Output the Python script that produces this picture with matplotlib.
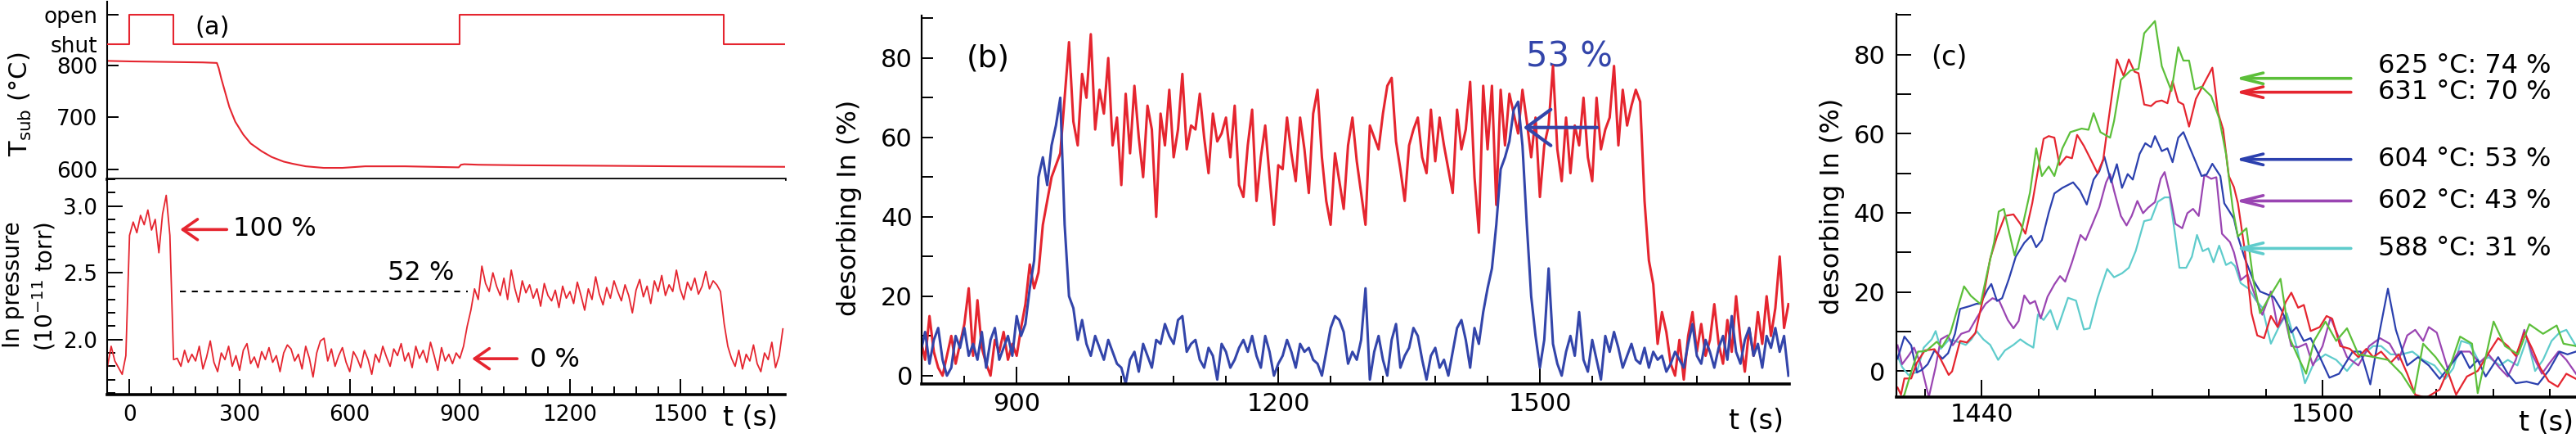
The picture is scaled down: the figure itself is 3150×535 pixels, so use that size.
import numpy as np
import matplotlib
matplotlib.use("Agg")
import matplotlib.pyplot as plt
from matplotlib.ticker import FixedLocator, MultipleLocator

plt.rcParams['font.family'] = ['DejaVu Sans']

# ---------------- colours ----------------
RED = '#e5252f'
BLUE_B = '#3345aa'
BLUE = '#2b40ae'
GREEN = '#5cbf3a'
PURPLE = '#9a45b2'
CYAN = '#5fcccc'

# ---------------- panel (a) data ----------------
shutter_t = [-61, 0, 119, 900, 1620, 1786]
shutter_state = [0, 1, 0, 1, 0, 0]          # 0 = shut, 1 = open
shutter_labels = ['shut', 'open']

temp_t = [-61, 0, 100, 200, 238, 243, 250, 260, 272, 288,
          310, 330, 360, 387, 420, 444, 480, 529, 580, 642,
          750, 897, 903, 912, 950, 1068, 1300, 1500, 1786]
temp_c = [809, 808, 807, 806, 805, 795, 775, 750, 720, 692,
          667, 650, 635, 624, 615, 611, 606, 603, 603, 606,
          606, 604, 609, 610, 609, 608, 607, 606, 605]

press_t = np.arange(-60, 1790, 10)
press_v = [
    1.80, 1.95, 1.84, 1.79, 1.74, 1.88, 2.78, 2.88, 2.80, 2.93,   # -60
    2.86, 2.97, 2.82, 2.90, 2.65, 2.94, 3.08, 2.78, 1.85, 1.86,   # 40
    1.80, 1.92, 1.83, 1.89, 1.84, 1.95, 1.78, 1.87, 1.99, 1.83,   # 140
    1.76, 1.90, 1.85, 1.95, 1.80, 1.88, 1.77, 1.92, 1.97, 1.82,   # 240
    1.87, 1.79, 1.91, 1.85, 1.94, 1.83, 1.88, 1.76, 1.90, 1.96,   # 340
    1.93, 1.84, 1.89, 1.78, 1.95, 1.86, 1.72, 1.90, 1.99, 2.01,   # 440
    1.84, 1.93, 1.80, 1.88, 1.94, 1.83, 1.76, 1.91, 1.86, 1.79,   # 540
    1.92, 1.85, 1.74, 1.89, 1.83, 1.95, 1.87, 1.80, 1.93, 1.88,   # 640
    1.97, 1.84, 1.90, 1.79, 1.95, 1.86, 1.92, 1.83, 1.98, 1.88,   # 740
    1.77, 1.94, 1.84, 1.89, 1.82, 1.90, 1.86, 1.95, 2.10, 2.22,   # 840
    2.38, 2.30, 2.55, 2.42, 2.36, 2.50, 2.40, 2.33, 2.46, 2.30,   # 940
    2.52, 2.38, 2.28, 2.44, 2.35, 2.41, 2.31, 2.38, 2.25, 2.42,   # 1040
    2.33, 2.29, 2.37, 2.24, 2.40, 2.31, 2.36, 2.27, 2.43, 2.33,   # 1140
    2.22, 2.38, 2.30, 2.47, 2.34, 2.26, 2.39, 2.31, 2.44, 2.36,   # 1240
    2.29, 2.41, 2.33, 2.20, 2.37, 2.45, 2.32, 2.40, 2.27, 2.44,   # 1340
    2.36, 2.48, 2.33, 2.41, 2.36, 2.52, 2.38, 2.30, 2.43, 2.37,   # 1440
    2.46, 2.34, 2.40, 2.51, 2.38, 2.44, 2.41, 2.36, 2.12, 1.95,   # 1540
    1.86, 1.80, 1.92, 1.78, 1.89, 1.84, 1.96, 1.82, 1.76, 1.90,   # 1640
    1.85, 1.98, 1.79, 1.88, 2.08]                                   # 1740

level_52 = 2.363
level_52_span = (138, 922)

# ---------------- panel (b) data ----------------
b_t = np.arange(790, 1790, 5)
b_red = [
    9, 4, 15, 6, 2, 0, 5, 10, 3, 8,          # 790
    13, 22, 5, 19, 7, 3, 0, 9, 6, 11,        # 840
    4, 8, 5, 12, 18, 28, 22, 26, 38, 44,     # 890
    50, 53, 56, 70, 84, 64, 58, 76, 70, 86,  # 940
    62, 72, 66, 80, 58, 65, 48, 71, 56, 73,  # 990
    60, 50, 68, 62, 40, 66, 58, 72, 55, 62,  # 1040
    76, 57, 63, 62, 71, 60, 51, 66, 59, 61,  # 1090
    65, 55, 68, 48, 45, 58, 67, 44, 55, 63,  # 1140
    50, 38, 53, 52, 65, 56, 49, 65, 57, 46,  # 1190
    66, 72, 55, 44, 38, 56, 49, 42, 58, 65,  # 1240
    54, 46, 38, 63, 60, 57, 66, 73, 75, 59,  # 1290
    52, 44, 58, 62, 65, 55, 51, 67, 54, 65,  # 1340
    58, 52, 46, 67, 57, 62, 74, 50, 36, 73,  # 1390
    57, 73, 43, 72, 58, 71, 66, 61, 72, 64,  # 1440
    55, 65, 45, 58, 63, 78, 57, 49, 65, 51,  # 1490
    63, 58, 70, 55, 49, 70, 57, 62, 65, 78,  # 1540
    58, 72, 63, 68, 72, 69, 44, 29, 23, 8,   # 1590
    16, 11, 3, 0, 9, -1, 10, 16, 6, 13,      # 1640
    5, 9, 18, 8, 3, 14, 6, 20, 9, 1,         # 1690
    12, 5, 16, 8, 20, 10, 17, 30, 12, 18]    # 1740
b_blue = [
    6, 11, 3, 9, 12, 4, 0, 2, 10, 7,         # 790
    12, 5, 8, 4, 11, 2, 9, 12, 4, 7,         # 840
    10, 5, 15, 10, 13, 22, 29, 50, 55, 48,   # 890
    58, 63, 70, 38, 20, 17, 9, 14, 8, 5,     # 940
    10, 7, 4, 9, 6, 3, 2, -2, 4, 6,          # 990
    1, 8, 5, 2, 9, 8, 13, 10, 8, 14,         # 1040
    15, 6, 8, 9, 4, 2, 7, 5, -1, 8,          # 1090
    6, 2, 4, 7, 9, 6, 10, 5, 2, 10,          # 1140
    6, 0, 3, 5, 9, 6, 2, 8, 6, 7,            # 1190
    4, 3, 0, 6, 12, 15, 14, 11, 3, 6,        # 1240
    4, 9, 22, -1, 6, 10, 4, 0, 9, 13,        # 1290
    2, 5, 7, 12, 10, 4, -1, 5, 7, 2,         # 1340
    4, 0, 6, 12, 14, 9, 2, 12, 8, 16,        # 1390
    22, 27, 38, 52, 55, 59, 67, 69, 58, 38,  # 1440
    20, 10, 2, 9, 27, 8, 3, 0, 6, 10,        # 1490
    5, 16, 4, 1, 9, 4, -1, 10, 6, 11,        # 1540
    7, 2, 5, 8, 4, 3, 7, 2, 6, 4,            # 1590
    5, 1, 3, 6, 4, 2, 8, 13, 5, 3,           # 1640
    9, 6, 2, 7, 10, 4, 15, 6, 3, 9,          # 1690
    12, 5, 8, 2, 10, 7, 12, 6, 10, 0]        # 1740

# ---------------- panel (c) data : (t, value) ----------------
c_green = [(1425, -9), (1426.4, -6), (1427.8, 0.7), (1428.8, 4.9), (1430.2, 5), (1432.1, 7.4),
           (1433, 6), (1434.5, 9.6), (1435.9, 16.5), (1436.9, 21.4), (1438.1, 19), (1439.8, 16.9),
           (1441, 25), (1442.2, 32.6), (1443, 40.3), (1443.9, 41), (1444.9, 34.7), (1445.8, 29.2),
           (1447, 35.4), (1448.5, 45.1), (1449.6, 56.3), (1450.6, 49.3), (1451.8, 51.7), (1452.8, 49.3),
           (1454.2, 56.3), (1455.6, 60.4), (1457.6, 61.3), (1458.8, 61), (1459.7, 65.2), (1460.9, 60.4),
           (1462.6, 59), (1463.3, 63.2), (1464.5, 73.6), (1466.2, 76), (1467.6, 76.4), (1468.6, 85.4),
           (1470.5, 88.5), (1471.7, 77.1), (1473.4, 70.8), (1474.6, 81.9), (1475.5, 78.5), (1476.5, 78.5),
           (1477.5, 71.2), (1478.7, 71.9), (1480.4, 69.5), (1481.8, 63.9), (1483, 54.9), (1484.2, 41),
           (1485.1, 34), (1486.6, 36.1), (1487.8, 23), (1489, 14.6), (1490.4, 18.1), (1492.6, 23.3),
           (1494.2, 8.3), (1495.7, 3.5), (1497.1, -0.7), (1498.5, 7.6), (1500.5, 12.5), (1502.4, 7.6),
           (1504.3, 10.8), (1506.3, 4.2), (1509.1, 3.5), (1511.5, 2.8), (1513.9, -0.7), (1516.1, -5.6),
           (1517.7, 6.9), (1519.9, 3.5), (1522, -0.7), (1524.2, 8.7), (1526.3, 6.9), (1527.3, -5.6),
           (1530.1, 12.5), (1532.1, 6.3), (1534.4, 4.2), (1536.4, 11.8), (1538.8, 9.4), (1541.2, 11.5),
           (1542.4, 6.9), (1544.6, 6.3)]
c_red = [(1425.2, -4.2), (1425.8, -6), (1426.4, -1.9), (1427.6, -1.9), (1428.6, 2.1), (1430, 5.2),
         (1431.7, 5.5), (1432.6, 3.5), (1434.2, -1), (1434.8, -0.1), (1436.2, 7.6), (1437.4, 7.2),
         (1438.9, 9.6), (1440.3, 18.7), (1441.5, 28.4), (1442.7, 34), (1444.1, 39.2), (1445.6, 39.6),
         (1446.8, 37.2), (1447.7, 34.7), (1448.9, 42.4), (1449.9, 50.7), (1450.9, 58.7), (1451.8, 59.4),
         (1452.8, 59), (1453.7, 52.1), (1454.9, 54.2), (1455.9, 53.8), (1456.8, 59.7), (1458, 56.9),
         (1459.2, 53.5), (1460.4, 50), (1461.4, 53.5), (1462.3, 63.2), (1463.8, 78.8), (1465, 74.6),
         (1465.9, 78.8), (1466.9, 75.7), (1467.6, 75.3), (1468.6, 67.4), (1469.8, 67), (1470.7, 68.1),
         (1471.7, 68.4), (1472.7, 67.7), (1473.6, 73.3), (1474.6, 68.1), (1475.5, 67.4), (1476.5, 61.8),
         (1477.7, 68.8), (1479.2, 72.9), (1480.6, 76.7), (1481.6, 65.3), (1482.5, 61.1), (1483.5, 49.3),
         (1484.4, 46.5), (1485.1, 42.4), (1486.3, 30.6), (1487.5, 14.6), (1488.5, 9), (1489.7, 8.3),
         (1490.9, 13.9), (1492.1, 11.1), (1493.5, 17.4), (1494.5, 19.8), (1495.7, 16), (1496.7, 16.7),
         (1497.9, 10.1), (1499.5, 11.1), (1500.7, 13.9), (1501.7, 13.2), (1503.1, 6.3), (1504.8, 5.6),
         (1506.3, 3.5), (1507.7, 5.6), (1508.9, 3.5), (1510.3, 4.9), (1512, 2.1), (1513.4, 4.2),
         (1514.9, -0.7), (1516.3, -6), (1518.2, -6.8), (1520.6, -4.7), (1522, 0), (1523.5, -6),
         (1525.4, -1.4), (1527.3, 0), (1529.2, 4.5), (1530.9, 8.3), (1532.6, 6.3), (1534, 3.8),
         (1535.5, 9.7), (1536.9, 5.6), (1538.3, 0.8), (1539.8, -2.6), (1541.4, -4), (1542.9, -0.7),
         (1544.6, -2)]
c_blue = [(1425.2, 3.1), (1426.4, 8.7), (1427.6, 6.5), (1428.6, -0.4), (1429.5, 0.3), (1430.5, 1.7),
          (1431.7, 5.2), (1433.1, 3.1), (1434.1, 4.5), (1435.3, 9.4), (1436.2, 15.7), (1437.9, 16.4),
          (1439.1, 17), (1439.8, 17), (1441, 20.5), (1441.7, 22), (1442.7, 17.7), (1443.6, 18.4),
          (1444.8, 23.3), (1446, 28.9), (1447.5, 32.4), (1448.7, 34.2), (1449.6, 31.3), (1450.6, 33.1),
          (1451.8, 40), (1452.8, 44.9), (1454.2, 46.3), (1456.1, 47.7), (1457.3, 45.6), (1458.5, 42.1),
          (1459.7, 48.4), (1460.7, 50.5), (1461.6, 54.2), (1462.8, 47.7), (1463.8, 52.3), (1464.7, 46.3),
          (1465.7, 49.8), (1466.6, 48.4), (1467.8, 54.9), (1468.8, 57.6), (1469.8, 56.6), (1470.5, 59.4),
          (1471.7, 55.6), (1472.7, 56.3), (1473.6, 52.8), (1474.6, 59), (1475.5, 60.4), (1476.5, 56.9),
          (1477.7, 52.8), (1478.7, 49.3), (1479.6, 49.7), (1480.6, 52.4), (1482, 49.3), (1482.7, 42.4),
          (1483.5, 40.6), (1484.4, 38.5), (1485.1, 34), (1486.3, 28.5), (1487.8, 23), (1489, 20.1),
          (1491.4, 18.7), (1492.8, 15.3), (1494.5, 9.7), (1495.4, 11.1), (1496.7, 7.6), (1497.9, 8.3),
          (1499.3, 4.2), (1501.2, -1.7), (1502.9, -0.7), (1505.3, 4.9), (1506.7, 4.9), (1508.4, -3.4),
          (1510.1, 10.4), (1511.5, 20.8), (1512.9, 10.4), (1514.9, 1.4), (1516.8, 3.5), (1518.7, 1.4),
          (1520.6, -2), (1522.5, 1.4), (1524.4, 4.9), (1525.9, 0.7), (1527.3, 2.8), (1528.7, -1.4),
          (1530.9, 3.5), (1532.6, -0.7), (1534, -3.1), (1535.9, -2.7), (1537.9, -3.4), (1539.8, 0.1),
          (1541.7, 4.9), (1543.1, 4.2), (1544.6, 4.9)]
c_purple = [(1425.2, 6.5), (1426, 1.7), (1427.1, 3.8), (1428.1, 5.9), (1429.3, 1.7), (1430.7, -6.6),
            (1431.9, 1), (1432.8, 8), (1434, 9), (1434.9, 6.5), (1436.4, 9.4), (1437.8, 10.1),
            (1439.2, 13.6), (1440.7, 17), (1441.9, 18.4), (1443.1, 17.7), (1444.6, 12.9), (1445.6, 10.8),
            (1446.5, 12.6), (1447.5, 19.1), (1448.5, 17), (1449.4, 17.7), (1450.4, 13.3), (1451.6, 18.8),
            (1452.8, 21.9), (1453.8, 24), (1454.7, 22.6), (1455.9, 27.5), (1457.4, 34.4), (1458.3, 33.1),
            (1459.5, 37.2), (1460.7, 41.4), (1461.9, 47.7), (1462.6, 49.8), (1463.3, 45.6), (1464.5, 39.2),
            (1465.5, 36.8), (1466.4, 39.2), (1467.4, 43), (1468.4, 39.9), (1469.3, 41.3), (1470.5, 42.7),
            (1471.5, 48.6), (1472.2, 50.3), (1473.1, 44.9), (1474.1, 37.2), (1475.3, 36.1), (1476.2, 39.9),
            (1477.2, 41), (1478.2, 39.2), (1479.2, 49.6), (1480.4, 48.6), (1481.3, 49), (1482.3, 34.7),
            (1483.7, 32.6), (1484.4, 30), (1485.6, 23), (1486.8, 24.4), (1488, 19.5), (1489.4, 14.2),
            (1490.9, 20.1), (1492.1, 11.1), (1493.3, 13.9), (1494.5, 6.3), (1495.7, 6), (1497.1, 6.9),
            (1498.3, 1.4), (1500, 6.3), (1501.4, 13.5), (1502.9, 8.3), (1504.3, 3.5), (1506.3, 1.4),
            (1508.2, 6.3), (1510.1, 8.3), (1511.8, 6.9), (1513.4, 2.8), (1514.9, 9), (1516.3, 10.4),
            (1517.7, 7.6), (1518.7, 11.1), (1520.1, 9.7), (1522, 0.7), (1524, 4.9), (1525.9, 4.9),
            (1527.6, 2.1), (1529.2, 4.2), (1531.2, 0.7), (1532.6, -1.4), (1534, 2.8), (1535.5, 10.4),
            (1536.9, 4.2), (1538.6, -0.7), (1540, 2.1), (1541.5, 4.9), (1542.9, 2.8), (1544.6, -0.7)]
c_cyan = [(1425.2, 3.8), (1426, 1), (1427.1, -1), (1428.6, -0.3), (1429.8, 5.9), (1431.2, 8),
          (1431.9, 10.1), (1432.8, 5.6), (1434.3, 8), (1435.9, 7.3), (1437.2, 6.6), (1438.2, 8),
          (1439.1, 10.1), (1440.3, 8), (1441.5, 6.6), (1442.9, 2.8), (1444.1, 5.2), (1445.6, 6.6),
          (1446.8, 8), (1447.9, 6.9), (1449.1, 5.9), (1449.9, 14.3), (1450.9, 12.9), (1452.1, 15.4),
          (1453.3, 10.5), (1455.2, 18.5), (1456.6, 17.8), (1458, 10.5), (1459, 10.8), (1460.4, 18.5),
          (1462.1, 25.8), (1463.3, 23.7), (1464.7, 24.7), (1465.9, 26.1), (1467.1, 30.3), (1468.6, 37.9),
          (1469.8, 38.3), (1471, 42.8), (1472.2, 43.9), (1473.1, 43.9), (1473.9, 35.9), (1474.8, 26.1),
          (1476, 26.1), (1477, 28.9), (1477.9, 34.4), (1478.9, 30.3), (1479.9, 31), (1480.8, 27.5),
          (1481.8, 31.7), (1483, 26.8), (1483.9, 27.5), (1484.6, 26.5), (1485.6, 22.2), (1487, 20.8),
          (1488.2, 18), (1489.4, 16), (1490.9, 6.9), (1492.3, 11.1), (1493.7, 14.6), (1495.4, 6.3),
          (1496.9, -3.1), (1498.5, 2.1), (1500.5, 4.2), (1502.4, 2.8), (1504.3, 0), (1505.8, 2.8),
          (1507.2, 4.2), (1508.9, 6.3), (1510.3, 6.3), (1512, 4.2), (1513.9, 4.2), (1515.8, 4.9),
          (1517.7, 2.8), (1519.7, 1.4), (1521.6, -2), (1523, 0.7), (1524.4, 7.6), (1525.9, 6.9),
          (1527.6, 2.1), (1529.2, 3.5), (1531.2, 1.4), (1532.6, 2.8), (1534.3, 1.4), (1536, 8.3),
          (1537.4, 0), (1538.8, 2.8), (1540.3, 7.6), (1541.7, 9.7), (1542.9, 10.4), (1544.6, 6.3)]

c_series = [('588 °C: 31 %', c_cyan, CYAN, 31, 30.9),
            ('602 °C: 43 %', c_purple, PURPLE, 43, 43.0),
            ('604 °C: 53 %', c_blue, BLUE, 53.5, 53.6),
            ('631 °C: 70 %', c_red, RED, 70.5, 70.5),
            ('625 °C: 74 %', c_green, GREEN, 74, 77.1)]

# ---------------- figure / layout (pixel based) ----------------
W, H = 3150, 535
fig = plt.figure(figsize=(W / 100, H / 100), dpi=100)


def rect(l, t, r, b):
    return [l / W, 1 - b / H, (r - l) / W, (b - t) / H]


def fx(x):
    return x / W


def fy(y):
    return 1 - y / H


TICK_W = 1.4

# ---- panel (a) upper: temperature ----
axT = fig.add_axes(rect(131, 2, 960, 219))
axT.plot(temp_t, temp_c, color=RED, lw=1.5)
axT.set_xlim(-61, 1786)
axT.set_ylim(581, 923)
for s in ['top', 'right']:
    axT.spines[s].set_visible(False)
axT.spines['left'].set_linewidth(1.5)
axT.spines['bottom'].set_linewidth(2.6)
axT.set_yticks([600, 700, 800])
axT.tick_params(axis='y', direction='in', length=10, width=TICK_W, labelsize=19, pad=8.5)
axT.tick_params(axis='x', bottom=False, labelbottom=False)

# shutter overlay
axS = fig.add_axes(rect(131, 2, 960, 219), sharex=axT)
axS.patch.set_visible(False)
for s in axS.spines.values():
    s.set_visible(False)
axS.plot(shutter_t, shutter_state, color=RED, lw=1.5, drawstyle='steps-post')
axS.set_ylim(-4.583, 1.444)
axS.set_yticks([0, 1])
axS.set_yticklabels(shutter_labels)
axS.tick_params(axis='y', direction='in', length=10, width=TICK_W, labelsize=19, pad=8.5)
axS.tick_params(axis='x', bottom=False, labelbottom=False)
axS.text((260 - 131) / 829, 1 - (33 - 2) / 217, '(a)', transform=axS.transAxes,
         ha='center', va='center', fontsize=22)

# ---- panel (a) lower: pressure ----
axP = fig.add_axes(rect(131, 219, 960, 481.7))
axP.plot(press_t, press_v, color=RED, lw=1.3)
axP.set_xlim(-61, 1786)
axP.set_ylim(1.59, 3.20)
for s in ['top', 'right']:
    axP.spines[s].set_visible(False)
axP.spines['left'].set_linewidth(1.5)
axP.spines['bottom'].set_linewidth(2.6)
axP.yaxis.set_major_locator(FixedLocator([2.0, 2.5, 3.0]))
axP.yaxis.set_minor_locator(MultipleLocator(0.1))
axP.set_yticklabels(['2.0', '2.5', '3.0'])
axP.xaxis.set_major_locator(FixedLocator([0, 300, 600, 900, 1200, 1500]))
axP.xaxis.set_minor_locator(FixedLocator(list(range(0, 1786, 60))))
axP.tick_params(which='major', direction='in', length=14, width=TICK_W, labelsize=19)
axP.tick_params(which='minor', direction='in', length=7, width=TICK_W)
axP.tick_params(axis='y', which='major', pad=8.5)
axP.tick_params(axis='x', which='major', pad=9)

axP.plot(level_52_span, [level_52, level_52], color='black', lw=1.5,
         linestyle=(0, (3.5, 3.5)))
axP.text(794, 2.50, '52 %', ha='center', va='center', fontsize=23)
axP.annotate('', xy=(138, 2.824), xytext=(265, 2.824),
             arrowprops=dict(arrowstyle='->,head_length=0.65,head_width=0.45',
                             color=RED, lw=2.6, shrinkA=0, shrinkB=0, mutation_scale=20))
axP.text(283, 2.83, '100 %', ha='left', va='center', fontsize=23)
axP.annotate('', xy=(933, 1.857), xytext=(1056, 1.857),
             arrowprops=dict(arrowstyle='->,head_length=0.65,head_width=0.45',
                             color=RED, lw=2.6, shrinkA=0, shrinkB=0, mutation_scale=20))
axP.text(1159, 1.85, '0 %', ha='center', va='center', fontsize=23)

fig.text(fx(918), fy(510), 't (s)', ha='center', va='center', fontsize=24)
fig.text(fx(25), fy(127), r'T$_{\rm sub}$ (°C)', rotation=90, ha='center', va='center', fontsize=22)
fig.text(fx(16), fy(348), 'In pressure', rotation=90, ha='center', va='center', fontsize=20)
fig.text(fx(54), fy(350), r'(10$^{-11}$ torr)', rotation=90, ha='center', va='center', fontsize=20)

# ---- panel (b) ----
axB = fig.add_axes(rect(1127, 19, 2188, 469))
axB.plot(b_t, b_red, color=RED, lw=2.2, zorder=2)
axB.plot(b_t, b_blue, color=BLUE_B, lw=2.2, zorder=2.1)
axB.set_xlim(791, 1786)
axB.set_ylim(-2.1, 90.7)
for s in ['top', 'right']:
    axB.spines[s].set_visible(False)
axB.spines['left'].set_linewidth(1.6)
axB.spines['bottom'].set_linewidth(2.6)
axB.xaxis.set_major_locator(FixedLocator([900, 1200, 1500]))
axB.xaxis.set_minor_locator(FixedLocator(list(range(840, 1786, 60))))
axB.yaxis.set_major_locator(FixedLocator([0, 20, 40, 60, 80]))
axB.yaxis.set_minor_locator(FixedLocator([10, 30, 50, 70, 90]))
axB.tick_params(axis='x', which='major', direction='in', length=15, width=TICK_W, labelsize=22, pad=7)
axB.tick_params(axis='x', which='minor', direction='in', length=7, width=TICK_W)
axB.tick_params(axis='y', which='both', direction='in', length=10, width=TICK_W, labelsize=22, pad=8)
axB.text(867, 79.8, '(b)', ha='center', va='center', fontsize=27)
axB.text(1534, 80.2, '53 %', ha='center', va='center', fontsize=30, color=BLUE_B, zorder=1.5)
axB.annotate('', xy=(1481, 62.5), xytext=(1565.6, 62.5),
             arrowprops=dict(arrowstyle='->,head_length=1.08,head_width=0.79',
                             color=BLUE_B, lw=3, shrinkA=0, shrinkB=0, mutation_scale=20),
             zorder=4)
fig.text(fx(1039), fy(253.5), 'desorbing In (%)', rotation=90, ha='center', va='center', fontsize=23)
fig.text(fx(2147), fy(515), 't (s)', ha='center', va='center', fontsize=24)

# ---- panel (c) ----
axC = fig.add_axes(rect(2319, 17, 3150, 485))
for label, pts, col, arrow_y, label_y in c_series:
    tt, vv = zip(*pts)
    axC.plot(tt, vv, color=col, lw=1.6)
for label, pts, col, arrow_y, label_y in c_series:
    axC.annotate('', xy=(1484.6, arrow_y), xytext=(1505.0, arrow_y),
                 arrowprops=dict(arrowstyle='->,head_length=0.97,head_width=0.24',
                                 color=col, lw=2.6, shrinkA=0, shrinkB=0, mutation_scale=20))
    axC.text(1509.8, label_y, label, ha='left', va='center', fontsize=23)
axC.set_xlim(1425, 1544.6)
axC.set_ylim(-6.6, 90.3)
for s in ['top', 'right']:
    axC.spines[s].set_visible(False)
axC.spines['left'].set_linewidth(1.6)
axC.spines['bottom'].set_linewidth(2.6)
axC.xaxis.set_major_locator(FixedLocator([1440, 1500]))
axC.xaxis.set_minor_locator(FixedLocator(list(range(1430, 1545, 10))))
axC.yaxis.set_major_locator(FixedLocator([0, 20, 40, 60, 80]))
axC.yaxis.set_minor_locator(FixedLocator([10, 30, 50, 70, 90]))
axC.tick_params(axis='x', which='major', direction='in', length=15, width=TICK_W, labelsize=22, pad=5)
axC.tick_params(axis='x', which='minor', direction='in', length=7, width=TICK_W)
axC.tick_params(axis='y', which='both', direction='in', length=13, width=TICK_W, labelsize=22, pad=9.5)
axC.text(1434.2, 79.3, '(c)', ha='center', va='center', fontsize=24)
fig.text(fx(2240), fy(252), 'desorbing In (%)', rotation=90, ha='center', va='center', fontsize=23)
fig.text(fx(3113), fy(517), 't (s)', ha='center', va='center', fontsize=24)

fig.savefig('out.png', dpi=100)
